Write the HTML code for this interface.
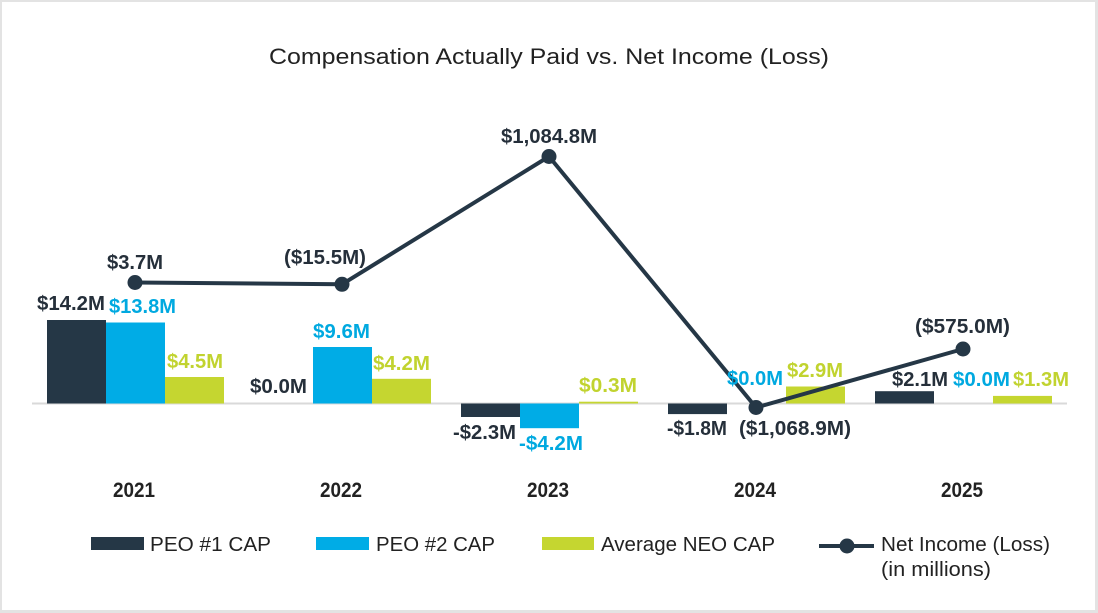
<!DOCTYPE html>
<html><head><meta charset="utf-8"><style>
html,body{margin:0;padding:0;background:#fff;}
.frame{position:absolute;left:0;top:0;width:1098px;height:613px;box-sizing:border-box;border:2px solid #e3e3e3;border-right-width:3px;border-bottom-width:3px;}
svg{position:absolute;left:0;top:0;}
text{font-family:"Liberation Sans",Arial,sans-serif;}
.lb{font-weight:bold;font-size:20.5px;}
.d{fill:#252f3a;}
.b{fill:#00a9e0;}
.g{fill:#c1d32f;}
</style></head><body>
<div class="frame"></div>
<svg width="1098" height="613" viewBox="0 0 1098 613">
<text x="269" y="64" font-size="22" fill="#222" textLength="560" lengthAdjust="spacingAndGlyphs">Compensation Actually Paid vs. Net Income (Loss)</text>
<line x1="32" y1="403.5" x2="1067" y2="403.5" stroke="#d9d9d9" stroke-width="2"/>
<!-- bars -->
<g>
<rect x="47" y="320" width="59" height="83.5" fill="#253746"/>
<rect x="106" y="322.5" width="59" height="81" fill="#00ace6"/>
<rect x="165" y="377" width="59" height="26.5" fill="#c5d630"/>

<rect x="313" y="347" width="59" height="56.5" fill="#00ace6"/>
<rect x="372" y="378.8" width="59" height="24.7" fill="#c5d630"/>

<rect x="461" y="403.5" width="59" height="13.5" fill="#253746"/>
<rect x="520" y="403.5" width="59" height="24.7" fill="#00ace6"/>
<rect x="579" y="401.7" width="59" height="1.8" fill="#c5d630"/>

<rect x="668" y="403.5" width="59" height="10.6" fill="#253746"/>
<rect x="786" y="386.5" width="59" height="17" fill="#c5d630"/>

<rect x="875" y="391.2" width="59" height="12.3" fill="#253746"/>
<rect x="993" y="395.9" width="59" height="7.6" fill="#c5d630"/>
</g>
<!-- line -->
<polyline points="135,282.5 342,284.3 549,156.5 756,407.5 963,349" fill="none" stroke="#253746" stroke-width="4" stroke-linejoin="round"/>
<g fill="#253746">
<circle cx="135" cy="282.5" r="7.5"/>
<circle cx="342" cy="284.3" r="7.5"/>
<circle cx="549" cy="156.5" r="7.5"/>
<circle cx="756" cy="407.5" r="7.5"/>
<circle cx="963" cy="349" r="7.5"/>
</g>
<!-- line labels -->
<text class="lb d" x="107" y="269" textLength="56" lengthAdjust="spacingAndGlyphs">$3.7M</text>
<text class="lb d" x="284" y="264" textLength="82" lengthAdjust="spacingAndGlyphs">($15.5M)</text>
<text class="lb d" x="501" y="143" textLength="96" lengthAdjust="spacingAndGlyphs">$1,084.8M</text>
<text class="lb d" x="739" y="435" textLength="112" lengthAdjust="spacingAndGlyphs">($1,068.9M)</text>
<text class="lb d" x="915" y="333" textLength="95" lengthAdjust="spacingAndGlyphs">($575.0M)</text>
<!-- bar labels -->
<text class="lb d" x="37" y="310" textLength="68" lengthAdjust="spacingAndGlyphs">$14.2M</text>
<text class="lb b" x="109" y="313" textLength="67" lengthAdjust="spacingAndGlyphs">$13.8M</text>
<text class="lb g" x="167" y="368" textLength="56" lengthAdjust="spacingAndGlyphs">$4.5M</text>

<text class="lb d" x="250" y="393" textLength="57" lengthAdjust="spacingAndGlyphs">$0.0M</text>
<text class="lb b" x="313" y="338" textLength="57" lengthAdjust="spacingAndGlyphs">$9.6M</text>
<text class="lb g" x="373" y="370" textLength="57" lengthAdjust="spacingAndGlyphs">$4.2M</text>

<text class="lb d" x="453" y="439" textLength="63" lengthAdjust="spacingAndGlyphs">-$2.3M</text>
<text class="lb b" x="519" y="450" textLength="64" lengthAdjust="spacingAndGlyphs">-$4.2M</text>
<text class="lb g" x="579" y="392" textLength="58" lengthAdjust="spacingAndGlyphs">$0.3M</text>

<text class="lb d" x="667" y="435" textLength="60" lengthAdjust="spacingAndGlyphs">-$1.8M</text>
<text class="lb b" x="727" y="385" textLength="56" lengthAdjust="spacingAndGlyphs">$0.0M</text>
<text class="lb g" x="787" y="377" textLength="56" lengthAdjust="spacingAndGlyphs">$2.9M</text>

<text class="lb d" x="892" y="386" textLength="56" lengthAdjust="spacingAndGlyphs">$2.1M</text>
<text class="lb b" x="953" y="386" textLength="57" lengthAdjust="spacingAndGlyphs">$0.0M</text>
<text class="lb g" x="1013" y="386" textLength="56" lengthAdjust="spacingAndGlyphs">$1.3M</text>
<!-- years -->
<g font-weight="bold" font-size="21" fill="#222">
<text x="113" y="497" textLength="42" lengthAdjust="spacingAndGlyphs">2021</text>
<text x="320" y="497" textLength="42" lengthAdjust="spacingAndGlyphs">2022</text>
<text x="527" y="497" textLength="42" lengthAdjust="spacingAndGlyphs">2023</text>
<text x="734" y="497" textLength="42" lengthAdjust="spacingAndGlyphs">2024</text>
<text x="941" y="497" textLength="42" lengthAdjust="spacingAndGlyphs">2025</text>
</g>
<!-- legend -->
<rect x="91" y="537" width="53" height="13" fill="#253746"/>
<rect x="316" y="537" width="53" height="13" fill="#00ace6"/>
<rect x="542" y="537" width="52" height="13" fill="#c5d630"/>
<line x1="819" y1="546" x2="874" y2="546" stroke="#253746" stroke-width="4"/>
<circle cx="847" cy="546" r="7.5" fill="#253746"/>
<g font-size="20.5" fill="#222">
<text x="150" y="551" textLength="121" lengthAdjust="spacingAndGlyphs">PEO #1 CAP</text>
<text x="376" y="551" textLength="119" lengthAdjust="spacingAndGlyphs">PEO #2 CAP</text>
<text x="601" y="551" textLength="174" lengthAdjust="spacingAndGlyphs">Average NEO CAP</text>
<text x="881" y="551" textLength="169" lengthAdjust="spacingAndGlyphs">Net Income (Loss)</text>
<text x="881" y="576" textLength="110" lengthAdjust="spacingAndGlyphs">(in millions)</text>
</g>
</svg>
</body></html>
